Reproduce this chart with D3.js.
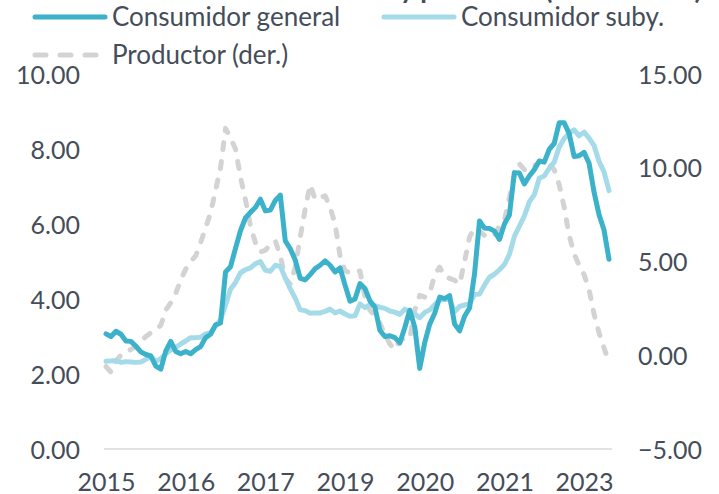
<!DOCTYPE html>
<html lang="es">
<head>
<meta charset="UTF-8">
<title>Inflación</title>
<style>
  body { margin: 0; background: #fff; }
  svg text { font-family: Lato, "Open Sans", sans-serif; fill: #454d59; }
</style>
</head>
<body>
<script src="https://d3js.org/d3.v7.min.js"></script>
<script>
  // monthly, Jan 2015 - Jun 2023
  const general = [
    3.07, 3.00, 3.14, 3.06, 2.88, 2.87, 2.74, 2.59, 2.52, 2.48, 2.21, 2.13,
    2.61, 2.87, 2.60, 2.54, 2.60, 2.54, 2.65, 2.73, 2.97, 3.06, 3.31, 3.36,
    4.72, 4.86, 5.35, 5.82, 6.16, 6.31, 6.44, 6.66, 6.35, 6.37, 6.63, 6.77,
    5.55, 5.34, 5.04, 4.55, 4.51, 4.65, 4.81, 4.90, 5.02, 4.90, 4.72, 4.83,
    4.37, 3.94, 4.00, 4.41, 4.28, 3.95, 3.78, 3.16, 3.00, 3.02, 2.97, 2.83,
    3.24, 3.70, 3.25, 2.15, 2.84, 3.33, 3.62, 4.05, 4.01, 4.09, 3.33, 3.15,
    3.54, 3.76, 4.67, 6.08, 5.89, 5.88, 5.81, 5.59, 6.00, 6.24, 7.37, 7.36,
    7.07, 7.28, 7.45, 7.68, 7.65, 7.99, 8.15, 8.70, 8.70, 8.41, 7.80, 7.82,
    7.91, 7.62, 6.85, 6.25, 5.84, 5.06
  ];
  const subyacente = [
    2.34, 2.35, 2.36, 2.31, 2.33, 2.32, 2.31, 2.32, 2.39, 2.47, 2.34, 2.41,
    2.54, 2.64, 2.71, 2.80, 2.88, 2.97, 2.97, 2.98, 3.07, 3.10, 3.29, 3.44,
    3.84, 4.26, 4.44, 4.70, 4.78, 4.83, 4.94, 5.00, 4.77, 4.74, 4.90, 4.87,
    4.56, 4.27, 4.02, 3.71, 3.69, 3.62, 3.63, 3.63, 3.67, 3.73, 3.63, 3.68,
    3.60, 3.54, 3.55, 3.87, 3.77, 3.85, 3.82, 3.78, 3.75, 3.68, 3.65, 3.59,
    3.73, 3.66, 3.60, 3.50, 3.64, 3.71, 3.85, 3.97, 3.99, 3.98, 3.66, 3.80,
    3.84, 3.87, 4.12, 4.13, 4.37, 4.58, 4.66, 4.78, 4.92, 5.19, 5.67, 5.94,
    6.21, 6.59, 6.78, 7.22, 7.28, 7.49, 7.65, 8.05, 8.28, 8.42, 8.51, 8.35,
    8.45, 8.29, 8.09, 7.67, 7.39, 6.89
  ];
  // right axis
  const productor = [
    -0.6, -0.9, -0.3, 0.0, 0.2, 0.3, 0.5, 0.7, 1.0, 1.2, 1.35, 1.6,
    2.4, 2.8, 3.3, 4.0, 4.6, 5.0, 5.3, 6.0, 6.8, 7.6, 8.8, 10.0,
    12.1, 11.6, 11.0, 9.5, 8.3, 6.9, 6.0, 5.5, 5.6, 5.9, 6.1, 5.3,
    4.1, 3.8, 4.7, 6.3, 7.8, 9.1, 8.3, 8.4, 8.5, 7.9, 7.0, 5.3,
    4.5, 4.4, 4.5, 4.5, 3.1, 2.4, 2.1, 1.7, 1.1, 0.6, 0.3, 0.8,
    0.9, 0.9, 2.4, 3.2, 3.1, 3.3, 4.3, 4.7, 4.2, 4.1, 4.0, 3.8,
    5.0, 6.3, 6.8, 6.6, 6.4, 6.3, 6.4, 6.9, 7.2, 8.4, 9.6, 10.2,
    9.9, 9.9, 10.1, 10.3, 10.4, 10.2, 9.9, 9.1, 7.9, 6.4, 5.4, 4.8,
    4.3, 3.5, 2.2, 1.2, 0.4, -0.4
  ];
  const xTickLabels = ['2015', '2016', '2017', '2019', '2020', '2021', '2023'];
  const X_TICK_STEP = 16; // one label every 16 months
  const leftTicks = [0, 2, 4, 6, 8, 10];
  const rightTicks = [-5, 0, 5, 10, 15];

  const series = [
    { name: 'Consumidor general', values: general, axis: 'left', color: '#3bb1ca', dash: null },
    { name: 'Consumidor suby.', values: subyacente, axis: 'left', color: '#a5dbe8', dash: null },
    { name: 'Productor (der.)', values: productor, axis: 'right', color: '#d3d3d4', dash: '7,12' }
  ];

  const width = 719, height = 494;
  const margin = { top: 74, right: 110, bottom: 45, left: 106 };

  const svg = d3.select('body').append('svg')
    .attr('width', width)
    .attr('height', height);

  const idx = d3.range(general.length);

  const x = d3.scalePoint()
    .domain(idx)
    .range([margin.left, width - margin.right]);

  const yLeft = d3.scaleLinear()
    .domain([0, 10])
    .range([height - margin.bottom, margin.top]);

  const yRight = d3.scaleLinear()
    .domain([-5, 15])
    .range([height - margin.bottom, margin.top]);

  // title, only its descenders fall inside the picture
  const titleParts = [
    { text: 'y productor', x: 400, anchor: 'start' },
    { text: '(var. % anual)', x: 702, anchor: 'end' }
  ];
  svg.append('g')
    .selectAll('text')
    .data(titleParts)
    .enter()
    .append('text')
    .attr('x', d => d.x)
    .attr('y', -1)
    .attr('text-anchor', d => d.anchor)
    .style('font-size', '27px')
    .style('font-weight', 'bold')
    .text(d => d.text);

  // left axis
  const gl = svg.append('g')
    .attr('transform', `translate(${margin.left - 26},0)`)
    .call(d3.axisLeft(yLeft).tickValues(leftTicks).tickFormat(d3.format('.2f')).tickSize(0).tickPadding(0));
  gl.select('.domain').remove();
  gl.selectAll('text').style('font-size', '25px').attr('dy', '0.36em');

  // right axis
  const gr = svg.append('g')
    .attr('transform', `translate(638,0)`)
    .call(d3.axisRight(yRight).tickValues(rightTicks).tickFormat(d3.format('.2f')).tickSize(0).tickPadding(0));
  gr.select('.domain').remove();
  gr.selectAll('text').style('font-size', '25px').attr('dy', '0.36em');

  // bottom axis
  const xr = x.range();
  svg.append('line')
    .attr('x1', xr[0] - 2)
    .attr('x2', xr[1] + 3)
    .attr('y1', yLeft(0))
    .attr('y2', yLeft(0))
    .attr('stroke', '#d9d9d9')
    .attr('stroke-width', 1.5);

  const gx = svg.append('g')
    .attr('transform', `translate(0,${yLeft(0)})`)
    .call(d3.axisBottom(x)
      .tickValues(idx.filter(i => i % X_TICK_STEP === 0))
      .tickFormat(i => xTickLabels[i / X_TICK_STEP])
      .tickSize(0)
      .tickPadding(0));
  gx.select('.domain').remove();
  gx.selectAll('text').style('font-size', '25px').attr('y', 0).attr('dy', '1.66em');

  // lines, producer drawn first (behind)
  const drawOrder = [series[2], series[1], series[0]];
  drawOrder.forEach(s => {
    const yScale = s.axis === 'left' ? yLeft : yRight;
    const line = d3.line()
      .x((d, i) => x(i))
      .y(d => yScale(d));
    svg.append('path')
      .datum(s.values)
      .attr('fill', 'none')
      .attr('stroke', s.color)
      .attr('stroke-width', 5)
      .attr('stroke-linejoin', 'round')
      .attr('stroke-linecap', 'round')
      .attr('stroke-dasharray', s.dash)
      .attr('d', line);
  });

  // legend
  const legendPos = [
    { x: 35, y: 17 },
    { x: 384, y: 17 },
    { x: 35, y: 55 }
  ];
  const legend = svg.append('g')
    .selectAll('g')
    .data(series)
    .enter()
    .append('g')
    .attr('transform', (d, i) => `translate(${legendPos[i].x},${legendPos[i].y})`);

  legend.append('line')
    .attr('x1', 0)
    .attr('x2', 70)
    .attr('stroke', d => d.color)
    .attr('stroke-width', 5)
    .attr('stroke-linecap', 'round')
    .attr('stroke-dasharray', d => d.dash ? '11,14' : null);

  legend.append('text')
    .attr('x', 77)
    .attr('dy', '0.36em')
    .style('font-size', '26px')
    .text(d => d.name);
</script>
</body>
</html>
